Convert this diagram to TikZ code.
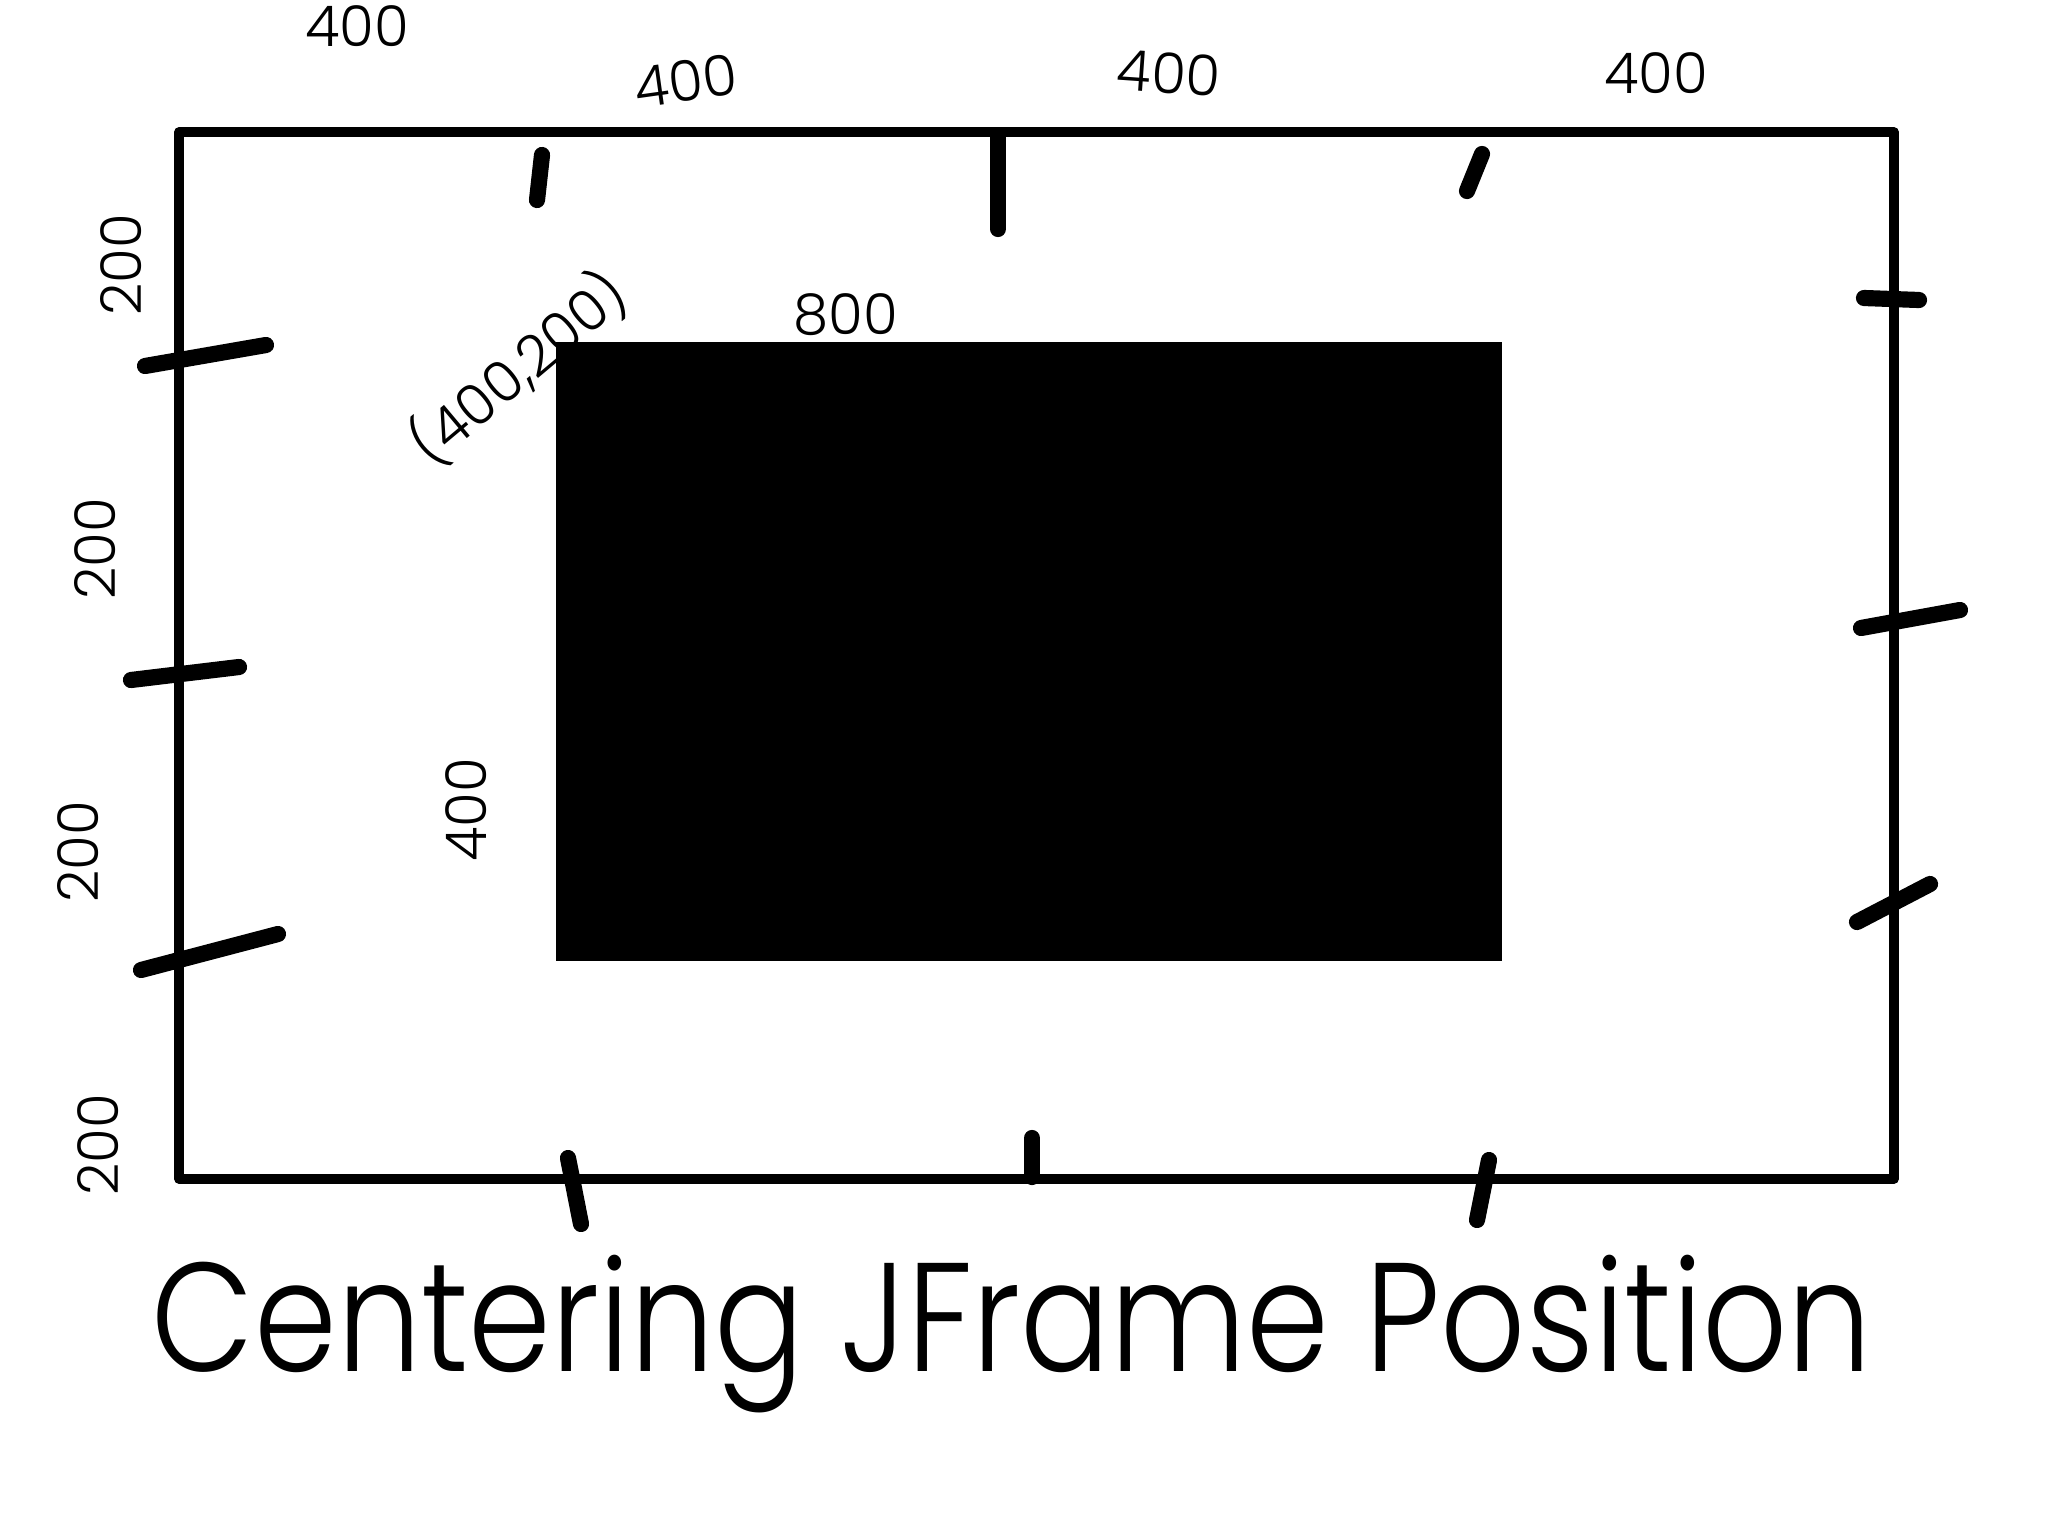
\documentclass[tikz,border=0pt]{standalone}
\usepackage{fontspec}
\newfontfamily\sketchfont{Poppins Light}

\begin{document}
\begin{tikzpicture}[x=0.01cm,y=-0.01cm]
\tikzset{
  frameline/.style={line width=2.6pt,line join=round},
  tick/.style={line width=4.6pt,line cap=round},
  dim/.style={font=\sketchfont\fontsize{16}{16}\selectfont,inner sep=0pt},
  caption/.style={font=\sketchfont\fontsize{44}{44}\selectfont,inner sep=0pt,anchor=base}
}
\useasboundingbox (0,0) rectangle (2048,1536);
\fill[white] (0,0) rectangle (2048,1536);

% screen and the centred frame
\coordinate (screen-nw) at (179,132);
\coordinate (screen-se) at (1894,1179);
\coordinate (frame-nw) at (556,342);
\coordinate (frame-se) at (1502,961);
\draw[frameline] (screen-nw) rectangle (screen-se);
\fill (frame-nw) rectangle (frame-se);

% tick marks on the screen edges
\foreach \xa/\ya/\xb/\yb in {537/200/542/155, 998/137/998/229, 1482/154/1467/191,
                   1864/298/1919/300, 1861/628/1960/610, 1857/922/1930/884,
                   145/366/266/345, 131/680/239/667, 141/970/278/934,
                   568/1158/581/1224, 1032/1138/1032/1177, 1489/1160/1477/1220}
  \draw[tick] (\xa,\ya) -- (\xb,\yb);

% widths along the top
\node[dim] (w1) at (357,26) {400};
\node[dim,rotate=8] (w2) at (686,81) {400};
\node[dim,rotate=-4] (w3) at (1169,73) {400};
\node[dim] (w4) at (1656,73) {400};

% heights along the left
\node[dim,rotate=90] (h1) at (121,265) {200};
\node[dim,rotate=90] (h2) at (95,549) {200};
\node[dim,rotate=90] (h3) at (78,852) {200};
\node[dim,rotate=90] (h4) at (98,1145) {200};

% frame size and origin
\node[dim,rotate=40] (origin) at (518,368) {(400,200)};
\node[dim] (fw) at (846,315) {800};
\node[dim,rotate=90] (fh) at (466,810) {400};

\node[caption] (title) at (1012,1371) {\scalebox{0.86}[1]{Centering JFrame Position}};
\end{tikzpicture}
\end{document}
